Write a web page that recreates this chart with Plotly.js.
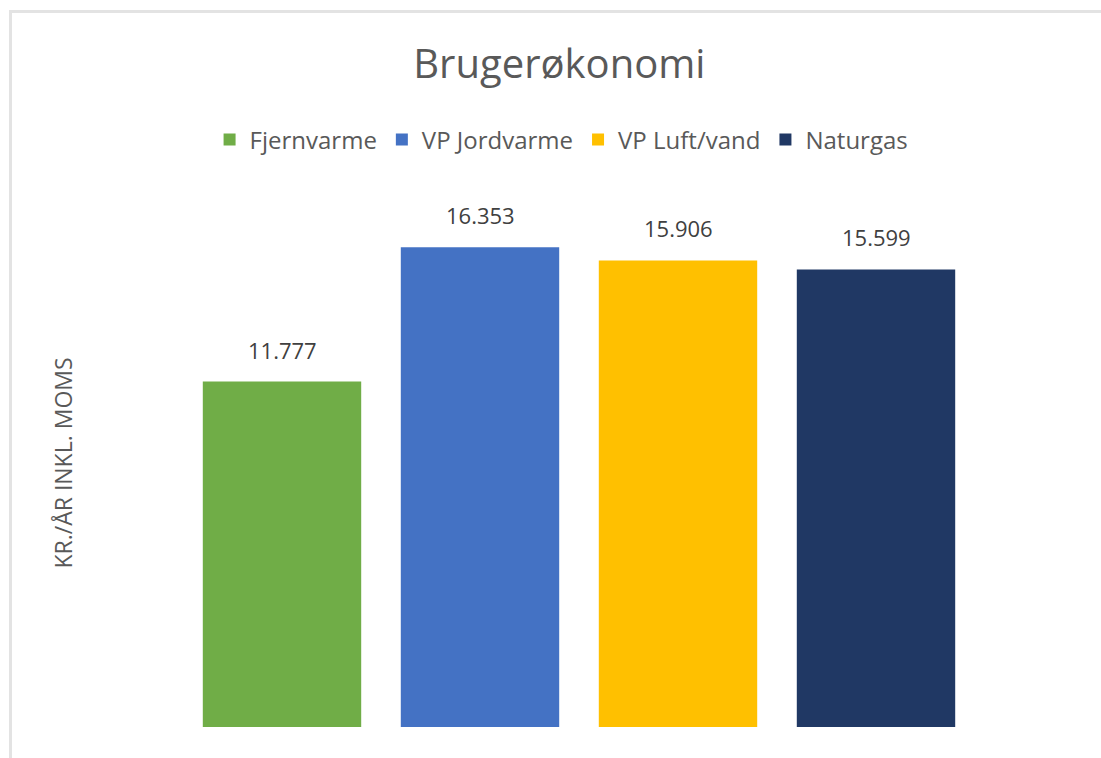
<!DOCTYPE html>
<html>
<head>
<meta charset="utf-8">
<script src="https://cdn.plot.ly/plotly-3.0.1.min.js"></script>
<style>
  html, body { margin: 0; padding: 0; background: #fff; }
  #wrap { position: relative; width: 1101px; height: 758px; overflow: hidden; }
  #chart { position: absolute; left: 0; top: 0; width: 1101px; height: 758px; }
  #frame { position: absolute; left: 9px; top: 10px; width: 1200px; height: 900px;
           border-top: 3px solid #e3e3e3; border-left: 3px solid #e3e3e3; pointer-events: none; }
</style>
</head>
<body>
<div id="wrap">
  <div id="chart"></div>
  <div id="frame"></div>
</div>
<script>
const categories = ["Fjernvarme", "VP Jordvarme", "VP Luft/vand", "Naturgas"];
const values = [11777, 16353, 15906, 15599];
const colors = ["#70AD47", "#4472C4", "#FFC000", "#203864"];
const chartTitle = "Brugerøkonomi";
const yTitle = "KR./ÅR INKL. MOMS";

const FONT = "Open Sans, Noto Sans, sans-serif";

const traces = categories.map((c, i) => ({
  type: "bar",
  name: c,
  x: [c],
  y: [values[i]],
  marker: { color: colors[i] },
  hoverinfo: "x+y"
}));

function fmt(v) {
  return String(v).replace(/\B(?=(\d{3})+(?!\d))/g, ".");
}

const annotations = categories.map((c, i) => ({
  x: c, y: values[i], xref: "x", yref: "y",
  text: fmt(values[i]),
  showarrow: false,
  yanchor: "bottom",
  yshift: 15,
  font: { family: FONT, size: 22, color: "#404040" }
}));

const layout = {
  width: 1101, height: 758,
  paper_bgcolor: "#ffffff", plot_bgcolor: "#ffffff",
  margin: { l: 183, r: 126, t: 199, b: 31, autoexpand: false },
  separators: ",.",
  barmode: "overlay",
  bargap: 0.2,
  showlegend: true,
  title: {
    text: chartTitle,
    font: { family: FONT, size: 40, color: "#595959" },
    x: 0.508, xanchor: "center", xref: "container",
    y: 1 - 64 / 758, yanchor: "middle", yref: "container"
  },
  legend: {
    orientation: "h",
    x: 0.478, xanchor: "center",
    y: (727 - 140) / 528, yanchor: "middle",
    font: { family: FONT, size: 24, color: "#595959" },
    itemwidth: 30,
    traceorder: "normal"
  },
  xaxis: {
    type: "category",
    showticklabels: false, showgrid: false, zeroline: false, showline: false, ticks: ""
  },
  yaxis: {
    range: [0, 18000],
    automargin: false,
    showticklabels: false, showgrid: false, zeroline: false, showline: false, ticks: "",
    title: { text: yTitle, font: { family: FONT, size: 23, color: "#595959" }, standoff: 102 }
  },
  annotations: annotations
};

Plotly.newPlot("chart", traces, layout, { displayModeBar: false, staticPlot: true });
</script>
</body>
</html>
